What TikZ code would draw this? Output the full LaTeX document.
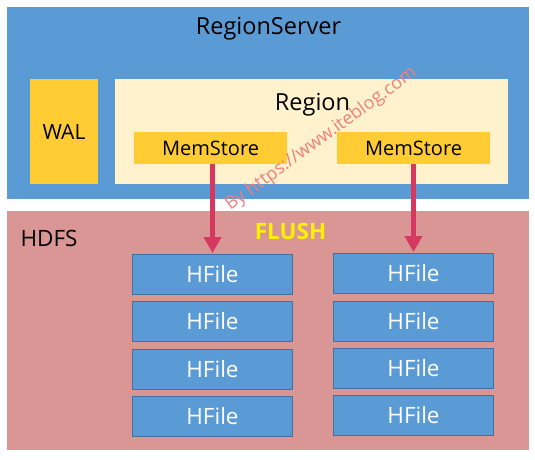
\documentclass[tikz,border=0pt]{standalone}
\usepackage{fontspec}
\setmainfont{Open Sans}
\usepackage{tikz}
\usetikzlibrary{arrows.meta}
\usepackage{xcolor}

\definecolor{rsblue}{HTML}{5B9BD5}
\definecolor{memyellow}{HTML}{FFCD33}
\definecolor{regioncream}{HTML}{FFF2CC}
\definecolor{hdfspink}{HTML}{D99694}
\definecolor{hfileedge}{HTML}{41719C}
\definecolor{flusharrow}{HTML}{D6395F}
\definecolor{marktext}{HTML}{F27E7E}

\begin{document}
\begin{tikzpicture}[x=1pt,y=-1pt,
    area/.style={rectangle,inner sep=0pt,outer sep=0pt},
    bigtext/.style={font=\fontsize{23.5}{27}\selectfont},
    memstore/.style={area,fill=memyellow,minimum width=153pt,minimum height=32pt,
        font=\fontsize{20}{24}\selectfont},
    hfile/.style={area,fill=rsblue,draw=hfileedge,line width=1pt,
        minimum width=160pt,minimum height=40pt,text=white,
        font=\fontsize{22.5}{26}\selectfont},
    flush/.style={line width=5pt,flusharrow,-{Triangle[length=16pt,width=17pt]},
        shorten >=1.5pt}]
    \useasboundingbox (0,0) rectangle (535,459);

    % RegionServer
    \node[area,fill=rsblue,minimum width=522pt,minimum height=192pt] (rs) at (268,103) {};
    \node[bigtext,anchor=base] (rslabel) at (268.5,34) {RegionServer};

    % WAL and Region
    \node[area,fill=memyellow,minimum width=68pt,minimum height=105pt,
        font=\fontsize{21}{25}\selectfont] (wal) at (64,131.5) {WAL};
    \node[area,fill=regioncream,minimum width=393pt,minimum height=105pt] (region) at (311.5,131.5) {};
    \node[bigtext,anchor=base] (regionlabel) at (312.5,110) {Region};
    \node[memstore] (ms1) at (210.5,148) {MemStore};
    \node[memstore] (ms2) at (413.5,148) {MemStore};

    % HDFS
    \node[area,fill=hdfspink,minimum width=522pt,minimum height=239pt] (hdfs) at (268,330.5) {};
    \node[font=\fontsize{22.5}{26}\selectfont,anchor=base west] (hdfslabel) at (17,246) {HDFS};
    \node[font=\bfseries\fontsize{22.5}{26}\selectfont,text={yellow},anchor=base] (flushlabel) at (290.5,239) {FLUSH};

    % HFiles
    \foreach \row/\ya/\yb in {1/274.5/273.5,2/321.5/321,3/369.5/368.5,4/416.5/415.5} {
        \node[hfile] (hfa\row) at (212.5,\ya) {HFile};
        \node[hfile] (hfb\row) at (413.5,\yb) {HFile};
    }

    % flush arrows
    \draw[flush] (hfa1.north |- ms1.south) -- (hfa1.north);
    \draw[flush] (hfb1.north |- ms2.south) -- (hfb1.north);

    % watermark
    \node[font=\fontsize{18}{21}\selectfont,text=marktext,rotate=36,anchor=base] (mark)
        at (324,143) {By https://www.iteblog.com};
\end{tikzpicture}
\end{document}
